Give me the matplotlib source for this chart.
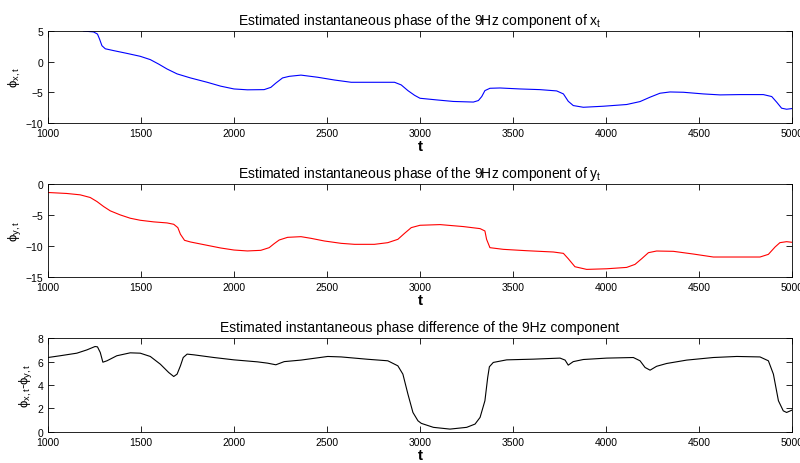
import numpy as np
import matplotlib
matplotlib.use('Agg')
import matplotlib.pyplot as plt

plt.rcParams['font.family'] = ['Liberation Sans', 'DejaVu Sans']
plt.rcParams['mathtext.fontset'] = 'custom'
plt.rcParams['mathtext.rm'] = 'Liberation Sans'
plt.rcParams['mathtext.it'] = 'Liberation Sans'

# Phase of the 9Hz component of x_t
t_x = [1191, 1245, 1266, 1277, 1290, 1308, 1353, 1424, 1496, 1550, 1595, 1640, 1694,
       1766, 1856, 1928, 2000, 2072, 2162, 2198, 2225, 2261, 2297, 2360, 2450, 2540,
       2630, 2755, 2863, 2899, 2935, 2971, 3000, 3090, 3179, 3287, 3314, 3332, 3349,
       3376, 3430, 3538, 3645, 3735, 3771, 3797, 3824, 3878, 3986, 4111, 4183, 4237,
       4290, 4344, 4416, 4523, 4613, 4720, 4846, 4891, 4918, 4944, 4971, 5000]
phi_x = [5.0, 4.85, 4.5, 3.7, 2.6, 2.1, 1.8, 1.35, 0.87, 0.33, -0.4, -1.2, -2.0,
         -2.66, -3.37, -4.0, -4.46, -4.6, -4.57, -4.2, -3.5, -2.66, -2.4, -2.2, -2.55, -3.0,
         -3.37, -3.37, -3.37, -3.8, -4.73, -5.5, -5.98, -6.25, -6.5, -6.6, -6.35, -5.7, -4.73,
         -4.35, -4.3, -4.46, -4.57, -4.78, -5.27, -6.47, -7.17, -7.45, -7.28, -7.0, -6.52, -5.8,
         -5.16, -4.95, -5.0, -5.27, -5.43, -5.38, -5.38, -5.7, -6.63, -7.6, -7.77, -7.66]

# Phase of the 9Hz component of y_t
t_y = [1000, 1101, 1173, 1227, 1263, 1299, 1335, 1388, 1442, 1496, 1568, 1640, 1676,
       1698, 1712, 1734, 1766, 1856, 1928, 2000, 2072, 2144, 2189, 2216, 2243, 2288,
       2360, 2414, 2486, 2576, 2648, 2755, 2827, 2881, 2917, 2953, 3000, 3108, 3233,
       3323, 3349, 3358, 3376, 3448, 3573, 3717, 3771, 3797, 3833, 3896, 4004, 4111,
       4156, 4192, 4228, 4272, 4362, 4470, 4577, 4720, 4828, 4873, 4909, 4935, 4971, 5000]
phi_y = [-1.35, -1.51, -1.73, -2.16, -2.81, -3.62, -4.32, -4.97, -5.51, -5.84, -6.1, -6.27, -6.49,
         -7.03, -8.1, -9.08, -9.35, -9.89, -10.32, -10.65, -10.8, -10.7, -10.27, -9.62, -9.03, -8.6,
         -8.49, -8.76, -9.19, -9.57, -9.73, -9.73, -9.46, -8.92, -7.95, -7.03, -6.65, -6.54, -6.86,
         -7.19, -7.57, -8.92, -10.27, -10.54, -10.76, -10.97, -11.19, -12.05, -13.35, -13.78, -13.68, -13.46,
         -12.97, -12.05, -11.08, -10.81, -10.86, -11.3, -11.78, -11.78, -11.78, -11.35, -10.16, -9.46, -9.3, -9.4]

# Phase difference
t_d = [1000, 1065, 1155, 1209, 1253, 1266, 1281, 1295, 1317, 1370, 1442, 1496, 1550,
       1604, 1649, 1676, 1694, 1712, 1727, 1748, 1784, 1892, 2000, 2126, 2180, 2225,
       2270, 2360, 2504, 2576, 2719, 2827, 2881, 2908, 2935, 2962, 2989, 3007, 3072,
       3161, 3251, 3296, 3323, 3349, 3364, 3373, 3394, 3466, 3609, 3753, 3780, 3797,
       3824, 3878, 4004, 4147, 4183, 4210, 4237, 4272, 4326, 4434, 4577, 4703, 4828,
       4873, 4900, 4927, 4953, 4971, 5000]
phi_d = [6.35, 6.5, 6.72, 7.0, 7.29, 7.26, 6.78, 5.95, 6.07, 6.5, 6.75, 6.72, 6.44,
         5.78, 5.07, 4.73, 4.93, 5.64, 6.35, 6.64, 6.58, 6.35, 6.15, 5.98, 5.87, 5.73,
         6.0, 6.13, 6.44, 6.4, 6.2, 6.07, 5.64, 4.93, 3.23, 1.66, 0.95, 0.73, 0.39,
         0.24, 0.39, 0.67, 1.24, 2.66, 4.65, 5.56, 5.93, 6.15, 6.21, 6.3, 6.13, 5.7,
         6.0, 6.18, 6.3, 6.35, 6.07, 5.5, 5.27, 5.6, 5.84, 6.13, 6.35, 6.44, 6.4,
         6.07, 4.93, 2.66, 1.8, 1.66, 1.86]

panels = [
    (t_x, phi_x, 'b', (-10, 5), [-10, -5, 0, 5], r'$\phi_{x,t}$',
     r'Estimated instantaneous phase of the 9Hz component of x$_{t}$'),
    (t_y, phi_y, 'r', (-15, 0), [-15, -10, -5, 0], r'$\phi_{y,t}$',
     r'Estimated instantaneous phase of the 9Hz component of y$_{t}$'),
    (t_d, phi_d, 'k', (0, 8), [0, 2, 4, 6, 8], r'$\phi_{x,t}$-$\phi_{y,t}$',
     'Estimated instantaneous phase difference of the 9Hz component'),
]

fig = plt.figure(figsize=(8, 4.64), dpi=100)
boxes = [(0.06, 0.733, 0.93, 0.198), (0.06, 0.401, 0.93, 0.200), (0.06, 0.067, 0.93, 0.202)]

for (t, v, c, ylim, yt, ylab, title), box in zip(panels, boxes):
    ax = fig.add_axes(box)
    ax.plot(t, v, color=c, lw=0.8)
    ax.set_xlim(1000, 5000)
    ax.set_ylim(*ylim)
    ax.set_xticks([1000, 1500, 2000, 2500, 3000, 3500, 4000, 4500, 5000])
    ax.set_yticks(yt)
    ax.tick_params(direction='in', top=True, right=True, labelsize=7.5, length=4, width=0.6)
    for s in ax.spines.values():
        s.set_linewidth(0.6)
    ax.set_title(title, fontsize=10, pad=5)
    ax.set_ylabel(ylab, fontsize=9.5, labelpad=2)
    ax.set_xlabel('t', fontsize=11, fontweight='bold', labelpad=1)

fig.savefig('out.png', dpi=100)
